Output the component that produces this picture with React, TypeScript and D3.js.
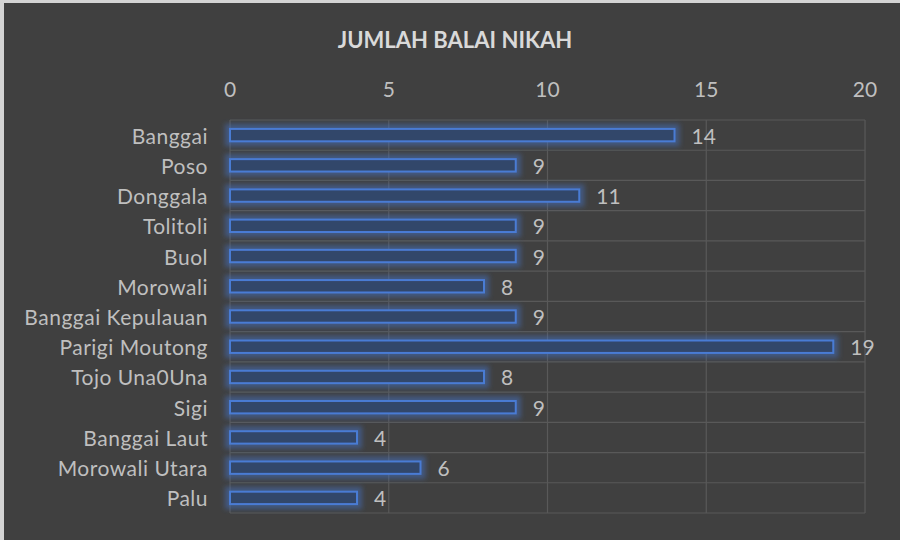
import React from "react";
import * as d3 from "d3";

const categories = [
  "Banggai", "Poso", "Donggala", "Tolitoli", "Buol", "Morowali",
  "Banggai Kepulauan", "Parigi Moutong", "Tojo Una0Una", "Sigi",
  "Banggai Laut", "Morowali Utara", "Palu",
];
const values = [14, 9, 11, 9, 9, 8, 9, 19, 8, 9, 4, 6, 4];
const xTicks = [0, 5, 10, 15, 20];
const title = "JUMLAH BALAI NIKAH";

const W = 900, H = 540;
const FONT = "Lato, 'Open Sans', sans-serif";

export default function App() {
  const x = d3.scaleLinear().domain([0, 20]).range([230, 865]);
  const y = d3.scaleBand<string>().domain(categories).range([120, 513]).paddingInner(0.59).paddingOuter(0.295);
  const step = y.step();
  const top = 120, bottom = 513;
  const boundaries = d3.range(categories.length + 1).map((i) => top + i * step);

  return (
    <svg width={W} height={H} style={{ position: "absolute", left: 0, top: 0, display: "block" }}>
      <defs>
        <filter id="glow" x="-20%" y="-150%" width="140%" height="400%">
          <feMorphology in="SourceAlpha" operator="dilate" radius="4" result="d" />
          <feGaussianBlur in="d" stdDeviation="2.5" result="b" />
          <feFlood floodColor="#4472c4" floodOpacity="0.5" />
          <feComposite in2="b" operator="in" result="g" />
          <feMerge>
            <feMergeNode in="g" />
            <feMergeNode in="SourceGraphic" />
          </feMerge>
        </filter>
      </defs>
      <rect x={0} y={0} width={W} height={H} fill="#d4d4d4" />
      <rect x={4} y={3} width={W} height={H} fill="#404040" />
      <text x={455} y={39} textAnchor="middle" dominantBaseline="central" fill="#d9d9d9"
        fontFamily={FONT} fontWeight="bold" fontSize={22}>{title}</text>
      {xTicks.map((t) => (
        <line key={"v" + t} x1={x(t)} x2={x(t)} y1={top} y2={bottom} stroke="#595959" strokeWidth={1.2} />
      ))}
      {boundaries.map((b, i) => (
        <line key={"h" + i} x1={x(0)} x2={x(20)} y1={b} y2={b} stroke="#595959" strokeWidth={1.2} />
      ))}
      {xTicks.map((t) => (
        <text key={"t" + t} x={x(t)} y={88} textAnchor="middle" dominantBaseline="central"
          fill="#bfbfbf" fontFamily={FONT} fontSize={21}>{t}</text>
      ))}
      {categories.map((c) => (
        <text key={"c" + c} x={208} y={(y(c) ?? 0) + y.bandwidth() / 2} textAnchor="end" dominantBaseline="central"
          fill="#bfbfbf" fontFamily={FONT} fontSize={21} letterSpacing={0.5}>{c}</text>
      ))}
      {categories.map((c, i) => (
        <rect key={"b" + c} x={x(0)} y={y(c)} width={x(values[i]) - x(0)} height={y.bandwidth()}
          fill="#33466a" stroke="#4a7bd4" strokeWidth={2} filter="url(#glow)" />
      ))}
      {categories.map((c, i) => (
        <text key={"l" + c} x={x(values[i]) + 17} y={(y(c) ?? 0) + y.bandwidth() / 2} dominantBaseline="central"
          fill="#bfbfbf" fontFamily={FONT} fontSize={21}>{values[i]}</text>
      ))}
    </svg>
  );
}
